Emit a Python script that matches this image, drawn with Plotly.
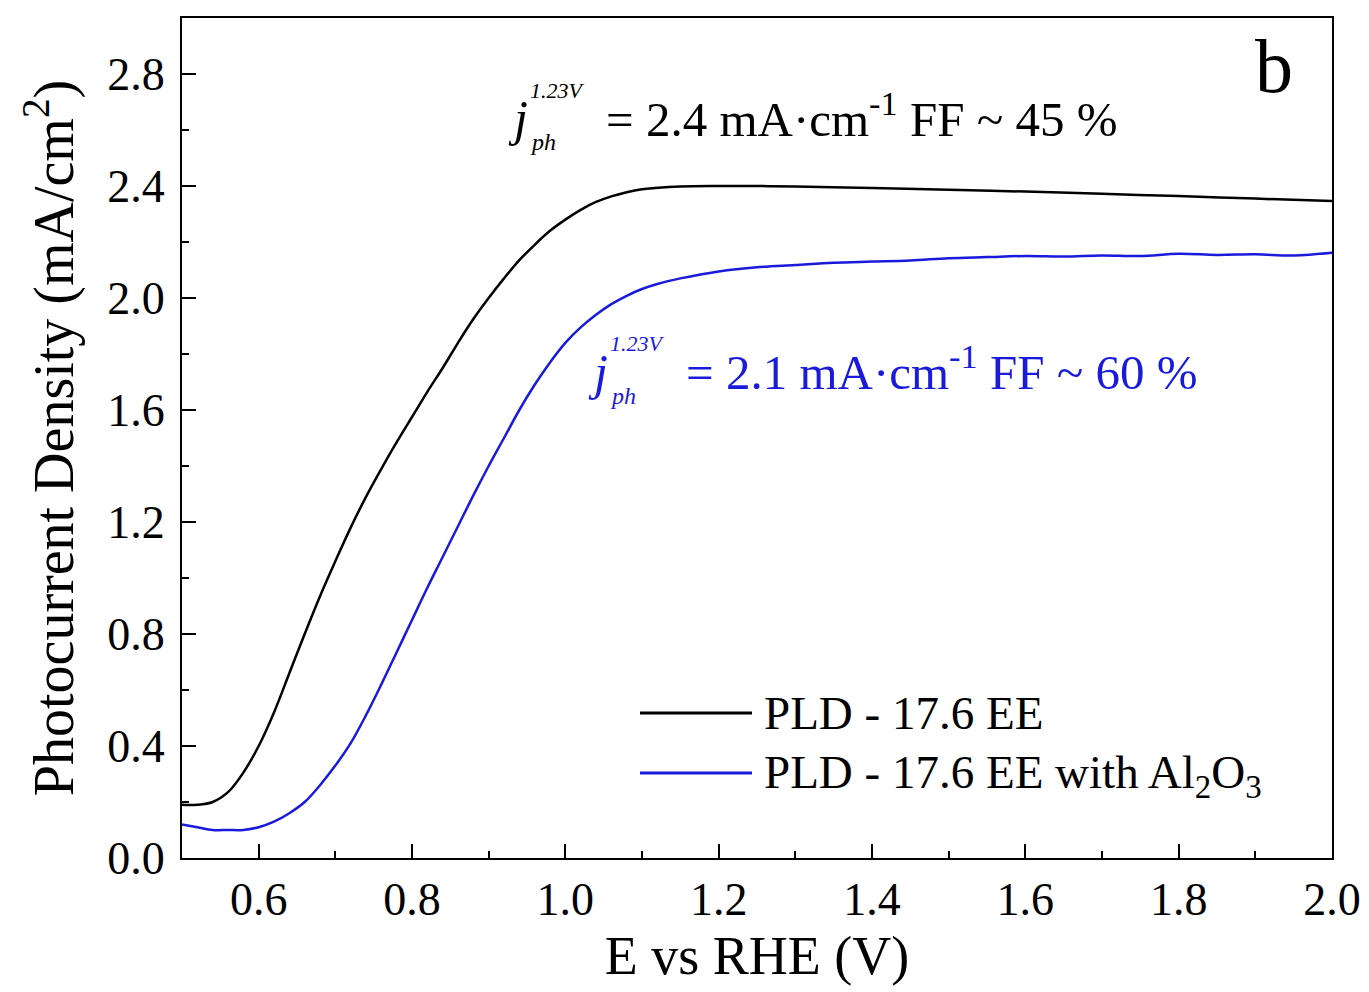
import plotly.graph_objects as go

# ---- data ----
e_black = [0.50, 0.52, 0.54, 0.56, 0.58, 0.60, 0.62, 0.64, 0.66, 0.68, 0.70, 0.72, 0.74,
           0.76, 0.78, 0.80, 0.82, 0.84, 0.86, 0.88, 0.90, 0.92, 0.94, 0.96, 0.98, 1.00,
           1.02, 1.04, 1.06, 1.08, 1.10, 1.15, 1.20, 1.25, 1.30, 1.40, 1.50, 1.60, 1.70,
           1.80, 1.90, 2.00]
j_black = [0.19, 0.19, 0.20, 0.235, 0.305, 0.40, 0.52, 0.66, 0.80, 0.935, 1.06, 1.18, 1.29,
           1.39, 1.485, 1.575, 1.665, 1.75, 1.84, 1.925, 2.00, 2.07, 2.135, 2.19, 2.24, 2.28,
           2.315, 2.343, 2.363, 2.378, 2.388, 2.398, 2.40, 2.40, 2.398, 2.393, 2.387, 2.38,
           2.372, 2.364, 2.355, 2.346]

e_blue = [0.50, 0.52, 0.54, 0.56, 0.58, 0.60, 0.62, 0.64, 0.66, 0.68, 0.70, 0.72, 0.74,
          0.76, 0.78, 0.80, 0.82, 0.84, 0.86, 0.88, 0.90, 0.92, 0.94, 0.96, 0.98, 1.00,
          1.02, 1.04, 1.06, 1.08, 1.10, 1.12, 1.15, 1.20, 1.25, 1.30, 1.35, 1.40, 1.45,
          1.50, 1.55, 1.60, 1.65, 1.70, 1.75, 1.80, 1.85, 1.90, 1.95, 2.00]
j_blue = [0.12, 0.11, 0.10, 0.10, 0.10, 0.11, 0.13, 0.16, 0.20, 0.26, 0.33, 0.41, 0.51,
          0.62, 0.735, 0.85, 0.965, 1.075, 1.185, 1.295, 1.40, 1.50, 1.60, 1.69, 1.77, 1.84,
          1.895, 1.94, 1.978, 2.008, 2.032, 2.05, 2.07, 2.095, 2.11, 2.118, 2.126, 2.13, 2.134,
          2.142, 2.146, 2.150, 2.148, 2.152, 2.150, 2.158, 2.154, 2.156, 2.152, 2.162]

name_black = "PLD - 17.6 EE"
name_blue = "PLD - 17.6 EE with Al<sub>2</sub>O<sub>3</sub>"

x_ticks = [0.6, 0.8, 1.0, 1.2, 1.4, 1.6, 1.8, 2.0]
y_ticks = [0.0, 0.4, 0.8, 1.2, 1.6, 2.0, 2.4, 2.8]

FONT = "Liberation Serif"
BLUE = "#1a1adc"

fig = go.Figure()
fig.add_trace(go.Scatter(x=e_black, y=j_black, mode="lines", name=name_black,
                         line=dict(color="black", width=2.5, shape="spline", smoothing=1.0)))
fig.add_trace(go.Scatter(x=e_blue, y=j_blue, mode="lines", name=name_blue,
                         line=dict(color=BLUE, width=2.5, shape="spline", smoothing=1.0)))

# page shows the figure offset by 8 px (body margin)
OFF = 8
W, H = 1369 - OFF, 992 - OFF
L, T = 182 - OFF, 18 - OFF
R = W - (1332 - OFF)
B = H - (858 - OFF)
PW, PH = W - L - R, H - T - B


def px(xp):
    # screen x pixel -> paper fraction
    return (xp - OFF - L) / PW


def py(yp):
    # screen y pixel -> paper fraction
    return (H - B - (yp - OFF)) / PH


ann = []
# black annotation
ann.append(dict(x=px(530), y=py(118), text="<i>j</i>", xanchor="right", yanchor="middle",
                font=dict(size=50, color="black")))
ann.append(dict(x=px(528), y=py(90), text="<i>1.23V</i>", xanchor="left", yanchor="middle",
                font=dict(size=22, color="black")))
ann.append(dict(x=px(528), y=py(142), text="<i>ph</i>", xanchor="left", yanchor="middle",
                font=dict(size=24, color="black")))
ann.append(dict(x=px(604), y=py(115),
                text="= 2.4 mA·cm<sup>-1</sup> FF ~ 45 %", xanchor="left", yanchor="middle",
                font=dict(size=49, color="black")))
# blue annotation
ann.append(dict(x=px(610), y=py(372), text="<i>j</i>", xanchor="right", yanchor="middle",
                font=dict(size=50, color=BLUE)))
ann.append(dict(x=px(608), y=py(344), text="<i>1.23V</i>", xanchor="left", yanchor="middle",
                font=dict(size=22, color=BLUE)))
ann.append(dict(x=px(608), y=py(396), text="<i>ph</i>", xanchor="left", yanchor="middle",
                font=dict(size=24, color=BLUE)))
ann.append(dict(x=px(684), y=py(369),
                text="= 2.1 mA·cm<sup>-1</sup> FF ~ 60 %", xanchor="left", yanchor="middle",
                font=dict(size=49, color=BLUE)))
# panel label
ann.append(dict(x=px(1295), y=py(66), text="b", xanchor="right", yanchor="middle",
                font=dict(size=76, color="black")))
# legend text
ann.append(dict(x=px(762), y=py(713), text=name_black, xanchor="left", yanchor="middle",
                font=dict(size=47, color="black")))
ann.append(dict(x=px(762), y=py(775), text=name_blue, xanchor="left", yanchor="middle",
                font=dict(size=47, color="black")))
for a in ann:
    a.update(xref="paper", yref="paper", showarrow=False)

shapes = [
    dict(type="line", xref="paper", yref="paper", x0=px(640), x1=px(752), y0=py(713), y1=py(713),
         line=dict(color="black", width=3)),
    dict(type="line", xref="paper", yref="paper", x0=px(640), x1=px(752), y0=py(773), y1=py(773),
         line=dict(color=BLUE, width=3)),
]

fig.update_layout(
    width=W, height=H,
    margin=dict(l=L, r=R, t=T, b=B, autoexpand=False),
    paper_bgcolor="white", plot_bgcolor="white",
    font=dict(family=FONT, color="black"),
    showlegend=False,
    annotations=ann, shapes=shapes,
    xaxis=dict(range=[0.5, 2.0], tickvals=x_ticks, ticktext=[f"{v:.1f}" for v in x_ticks],
               ticks="inside", ticklen=14, tickwidth=2, tickcolor="black",
               minor=dict(dtick=0.1, ticks="inside", ticklen=7, tickwidth=2, tickcolor="black"),
               showline=True, linecolor="black", linewidth=2, mirror=True, showgrid=False,
               zeroline=False, tickfont=dict(size=46, family=FONT),
               title=dict(text="E vs RHE (V)", font=dict(size=54, family=FONT), standoff=12)),
    yaxis=dict(range=[0, 3.0], tickvals=y_ticks, ticktext=[f"{v:.1f}" for v in y_ticks],
               ticks="inside", ticklen=14, tickwidth=2, tickcolor="black",
               minor=dict(dtick=0.2, ticks="inside", ticklen=7, tickwidth=2, tickcolor="black"),
               showline=True, linecolor="black", linewidth=2, mirror=True, showgrid=False,
               zeroline=False, tickfont=dict(size=46, family=FONT), ticklabelstandoff=6,
               title=dict(text="Photocurrent Density (mA/cm<sup>2</sup>)",
                          font=dict(size=56, family=FONT), standoff=16)),
)

fig.write_html("out.html")
